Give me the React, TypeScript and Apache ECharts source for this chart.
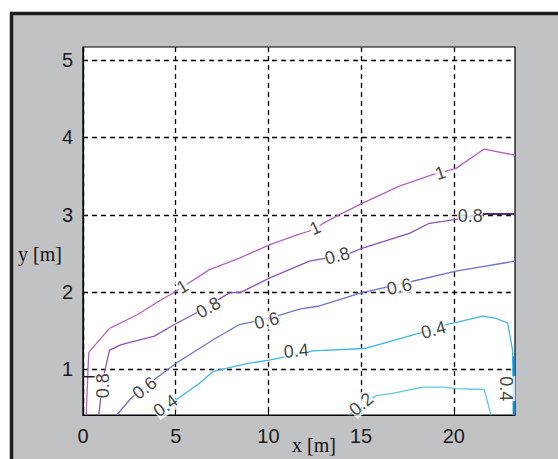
import React, { useEffect, useRef } from "react";
import * as echarts from "echarts";

// axis ticks
const xTicks = [0, 5, 10, 15, 20];
const yTicks = [1, 2, 3, 4, 5];

// contour lines [x, y]
const level10: [number, number][] = [
  [0.17, 0.41], [0.31, 1.22], [1.43, 1.53], [2.95, 1.71], [4.22, 1.9], [5.02, 2.01],
  [6.82, 2.29], [8.44, 2.44], [10.05, 2.61], [11.67, 2.75], [12.21, 2.79], [13.65, 2.98],
  [15.08, 3.15], [17.06, 3.37], [18.86, 3.52], [20.12, 3.6], [21.64, 3.85], [23.3, 3.77],
];
const level08: [number, number][] = [
  [0.85, 0.41], [1.07, 0.87], [1.43, 1.25], [2.06, 1.32], [3.85, 1.43], [4.93, 1.58],
  [6.1, 1.73], [7.9, 1.99], [8.53, 2.0], [10.05, 2.18], [12.21, 2.4], [13.11, 2.44],
  [14.37, 2.5], [15.08, 2.57], [17.6, 2.76], [18.68, 2.89], [20.12, 2.94], [21.55, 3.01],
  [23.3, 3.01],
];
const level06: [number, number][] = [
  [1.82, 0.41], [2.6, 0.63], [3.85, 0.87], [5.02, 1.08], [7.0, 1.38], [8.44, 1.58],
  [10.05, 1.66], [11.67, 1.78], [12.75, 1.82], [15.0, 1.99], [17.78, 2.14], [20.12, 2.27],
  [23.3, 2.4],
];
const level04: [number, number][] = [
  [3.95, 0.41], [5.11, 0.62], [6.28, 0.82], [7.0, 0.97], [8.17, 1.04], [8.98, 1.08],
  [10.05, 1.12], [12.39, 1.24], [15.18, 1.27], [16.52, 1.36], [18.14, 1.47], [19.76, 1.59],
  [20.2, 1.61], [21.55, 1.69], [22.28, 1.66], [22.9, 1.6], [23.17, 1.25], [23.2, 0.41],
];
const level04Edge: [number, number][] = [[23.24, 1.17], [23.24, 0.41]];
const level02: [number, number][] = [
  [14.33, 0.41], [15.8, 0.66], [16.7, 0.69], [18.32, 0.77], [19.4, 0.77], [20.12, 0.75],
  [21.64, 0.74], [21.74, 0.65], [22.0, 0.41],
];
const darkLeft: [number, number][] = [[0, 0.906], [1.05, 0.906]];
const darkRight: [number, number][] = [[21.55, 3.01], [23.3, 3.01]];

// contour labels: text, x, y, angle
const contourLabels: [string, number, number, number][] = [
  ["1", 5.37, 2.07, 31],
  ["1", 12.53, 2.83, 25],
  ["1", 19.27, 3.54, 18],
  ["0.8", 1.1, 0.79, 90],
  ["0.8", 6.76, 1.8, 30],
  ["0.8", 13.72, 2.47, 15],
  ["0.8", 20.89, 2.99, 0],
  ["0.6", 3.32, 0.76, 37],
  ["0.6", 9.9, 1.63, 14],
  ["0.6", 17.06, 2.07, 12],
  ["0.4", 4.45, 0.53, 35],
  ["0.4", 11.5, 1.24, 5],
  ["0.4", 18.9, 1.51, 15],
  ["0.4", 22.83, 0.75, -90],
  ["0.2", 15.0, 0.55, 40],
];

const lineSeries = (data: [number, number][], color: string, width = 1.3) => ({
  type: "line",
  data,
  symbol: "none",
  silent: true,
  lineStyle: { color, width },
  z: 3,
});

export default function App() {
  const ref = useRef<HTMLDivElement>(null);
  useEffect(() => {
    const chart = echarts.init(ref.current!, null, { renderer: "svg" });
    chart.setOption({
      animation: false,
      backgroundColor: "#ffffff",
      graphic: [
        {
          type: "rect",
          z: -100,
          shape: { x: 11.5, y: 13.5, width: 620, height: 520 },
          style: { fill: "#c1c2c3", stroke: "#1e1e1e", lineWidth: 3.5 },
        },
        {
          type: "text",
          x: 314,
          y: 445,
          z: 10,
          style: {
            text: "x [m]",
            font: "20px 'Liberation Serif'",
            fill: "#111",
            align: "center",
            verticalAlign: "middle",
          },
        },
        {
          type: "text",
          x: 40,
          y: 254,
          z: 10,
          style: {
            text: "y [m]",
            font: "20px 'Liberation Serif'",
            fill: "#111",
            align: "center",
            verticalAlign: "middle",
          },
        },
      ],
      grid: {
        left: 83,
        top: 47,
        width: 432,
        height: 368,
        show: true,
        backgroundColor: "#ffffff",
        borderColor: "#000",
        borderWidth: 1.2,
      },
      xAxis: {
        type: "value",
        min: 0,
        max: 23.3,
        interval: 5,
        axisLine: { show: true, lineStyle: { color: "#000", width: 1.2 } },
        axisTick: { show: true, inside: true, length: 5, lineStyle: { color: "#000" }, customValues: xTicks },
        axisLabel: {
          color: "#1a1a1a",
          fontSize: 20,
          fontFamily: "Liberation Sans",
          margin: 11,
          customValues: xTicks,
        },
        splitLine: { show: true, lineStyle: { color: "#000", type: [5, 4], width: 1.3 } },
      },
      yAxis: {
        type: "value",
        min: 0.41,
        max: 5.17,
        axisLine: { show: true, lineStyle: { color: "#000", width: 1.2 } },
        axisTick: { show: true, inside: true, length: 5, lineStyle: { color: "#000" }, customValues: yTicks },
        axisLabel: {
          color: "#1a1a1a",
          fontSize: 20,
          fontFamily: "Liberation Sans",
          margin: 10,
          customValues: yTicks,
        },
        splitLine: { show: true, lineStyle: { color: "#000", type: [5, 4], width: 1.3 } },
      },
      series: [
        lineSeries(level10, "#b462c2"),
        lineSeries(level08, "#8a52b6"),
        lineSeries(level06, "#6b76c6"),
        lineSeries(level04, "#3cb6ec"),
        lineSeries(level04Edge, "#1a8fe0", 1.8),
        lineSeries(level02, "#5cc8da"),
        lineSeries(darkLeft, "#1a1a1a", 1.5),
        lineSeries(darkRight, "#4a2a70", 2),
        {
          type: "scatter",
          symbolSize: 0,
          silent: true,
          z: 6,
          data: contourLabels.map(([t, x, y, a]) => ({
            value: [x, y],
            name: t,
            label: { rotate: a },
          })),
          label: {
            show: true,
            position: "inside",
            formatter: (p: any) => p.name,
            color: "#111",
            fontSize: 18,
            fontFamily: "Liberation Sans",
            backgroundColor: "#ffffff",
            padding: [0, 0],
          },
        },
      ],
    });
    return () => chart.dispose();
  }, []);
  return (
    <div
      ref={ref}
      style={{ position: "fixed", left: 0, top: 0, width: 558, height: 459 }}
    />
  );
}
